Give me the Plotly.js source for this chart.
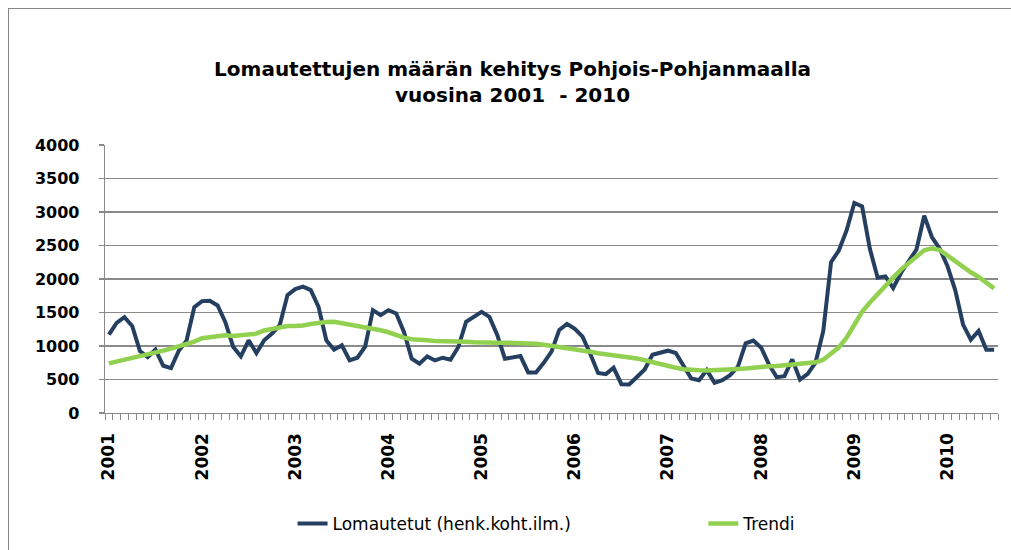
<!DOCTYPE html>
<html>
<head>
<meta charset="utf-8">
<script src="https://cdn.plot.ly/plotly-3.0.1.min.js"></script>
<style>
  html, body { margin: 0; padding: 0; background: #fff; }
  #chart { width: 1011px; height: 550px; }
  #frame { position: absolute; left: 8px; top: 8px; width: 1100px; height: 600px;
           border: 1px solid #868686; pointer-events: none; }
</style>
</head>
<body>
<div id="chart"></div>
<div id="frame"></div>
<script>
// Tick labels (January of each year)
const yearLabels = ['2001','2002','2003','2004','2005','2006','2007','2008','2009','2010'];

// Monthly values, Jan 2001 - Jul 2010
const lomautetut = [
  1170,1345,1430,1300,925,835,945,705,670,930,
  1080,1580,1670,1675,1605,1355,990,845,1085,895,
  1085,1185,1310,1760,1850,1885,1835,1585,1085,945,
  1010,785,825,990,1535,1460,1535,1485,1210,810,
  735,845,785,825,795,985,1360,1435,1510,1435,
  1170,810,830,850,605,605,748,915,1240,1330,
  1255,1140,880,598,580,675,430,425,538,650,
  870,905,930,895,690,515,490,640,450,490,
  565,690,1040,1080,975,725,535,550,800,500,
  585,750,1225,2250,2425,2725,3135,3085,2450,2020,
  2040,1865,2090,2265,2440,2945,2620,2450,2190,1830,
  1320,1095,1225,945,945
];

const trendi = [
  740,765,790,815,843,870,900,930,960,990,
  1018,1065,1115,1135,1155,1160,1150,1165,1175,1185,
  1232,1255,1278,1298,1300,1305,1328,1345,1357,1360,
  1340,1330,1310,1285,1255,1235,1205,1160,1125,1100,
  1100,1085,1075,1075,1073,1069,1064,1057,1050,1050,
  1050,1050,1050,1050,1050,1035,1020,1005,990,977,
  962,945,915,893,880,864,850,835,815,787,
  756,722,700,676,652,640,637,636,637,642,
  648,656,663,678,695,698,703,711,722,733,
  743,756,795,885,980,1125,1320,1510,1650,1780,
  1890,2020,2140,2238,2350,2430,2458,2432,2350,2265,
  2175,2100,2030,1945,1860
];

const xIdx = lomautetut.map((_, i) => i);
const tickPos = yearLabels.map((_, k) => k * 12);

const gridCol = '#8a8a8a';
const fontFam = 'DejaVu Sans, Liberation Sans, sans-serif';

const traces = [
  {
    x: xIdx, y: lomautetut, type: 'scatter', mode: 'lines',
    name: 'Lomautetut (henk.koht.ilm.)', legend: 'legend',
    line: { color: '#243f60', width: 4, shape: 'linear' }
  },
  {
    x: xIdx, y: trendi, type: 'scatter', mode: 'lines',
    name: 'Trendi', legend: 'legend2',
    line: { color: '#92d050', width: 4.5, shape: 'linear' }
  }
];

const legendCommon = {
  orientation: 'h', xanchor: 'left', yanchor: 'middle', y: -0.414,
  font: { family: fontFam, size: 17, color: '#000' },
  bgcolor: 'rgba(0,0,0,0)'
};

const layout = {
  width: 1011, height: 550,
  margin: { l: 105, r: 13, t: 145, b: 137, autoexpand: false },
  paper_bgcolor: '#ffffff', plot_bgcolor: '#ffffff',
  font: { family: fontFam, color: '#000' },
  title: {
    text: '<b>Lomautettujen määrän kehitys Pohjois-Pohjanmaalla<br>vuosina 2001  - 2010</b>',
    font: { family: fontFam, size: 20, color: '#000' },
    xref: 'container', yref: 'container', x: 0.507, xanchor: 'center',
    y: 0.862, yanchor: 'top'
  },
  showlegend: true,
  legend: Object.assign({}, legendCommon, { x: 0.21 }),
  legend2: Object.assign({}, legendCommon, { x: 0.67 }),
  xaxis: {
    range: [-0.5, lomautetut.length - 0.5],
    automargin: false,
    tickmode: 'array', tickvals: tickPos, ticktext: yearLabels,
    tickangle: -90, ticks: '', ticklabelstandoff: 12,
    tickfont: { family: fontFam, size: 17, color: '#000', weight: 'bold' },
    showgrid: false, zeroline: false,
    showline: true, linecolor: gridCol, linewidth: 1.3,
    minor: { tickmode: 'linear', tick0: -0.5, dtick: 1, ticks: 'outside',
             ticklen: 6, tickcolor: gridCol, tickwidth: 1, showgrid: false },
    fixedrange: true
  },
  yaxis: {
    range: [0, 4000], tickmode: 'linear', tick0: 0, dtick: 500,
    automargin: false,
    ticks: 'outside', ticklen: 5, tickcolor: gridCol, tickwidth: 1.3,
    ticklabelstandoff: 16,
    tickfont: { family: fontFam, size: 16, color: '#000', weight: 'bold' },
    showgrid: true, gridcolor: gridCol, gridwidth: 1.3,
    zeroline: false, showline: true, linecolor: gridCol, linewidth: 1.3,
    tickformat: 'd',
    fixedrange: true
  }
};

Plotly.newPlot('chart', traces, layout, { displayModeBar: false, staticPlot: true });
</script>
</body>
</html>
